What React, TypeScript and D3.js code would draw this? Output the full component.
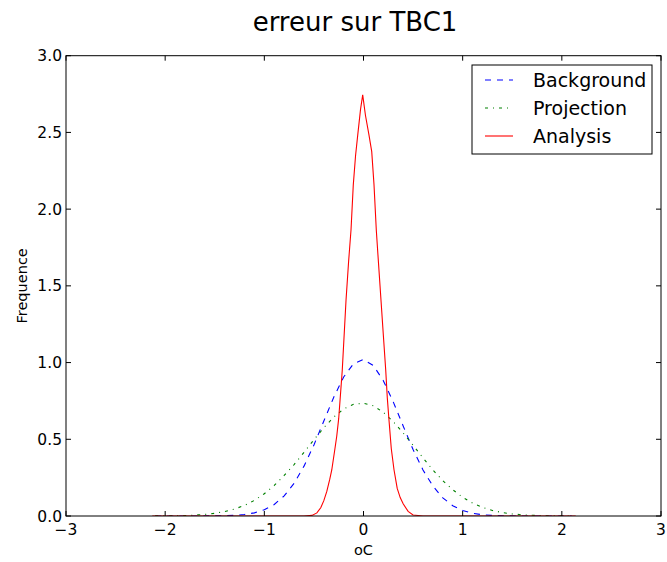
import React from "react";
import * as d3 from "d3";

const W = 667;
const H = 562;

const title = "erreur sur TBC1";
const xLabel = "oC";
const yLabel = "Frequence";
const xTicks = [-3, -2, -1, 0, 1, 2, 3];
const yTicks = [0, 0.5, 1.0, 1.5, 2.0, 2.5, 3.0];
const seriesNames = ["Background", "Projection", "Analysis"];

const bgX = [-2.1, -2.0, -1.9, -1.8, -1.7, -1.6, -1.5, -1.4, -1.3, -1.2, -1.1, -1.0, -0.9, -0.8, -0.7, -0.6, -0.5, -0.4, -0.3, -0.2, -0.1, 0.0, 0.1, 0.2, 0.3, 0.4, 0.5, 0.6, 0.7, 0.8, 0.9, 1.0, 1.1, 1.2, 1.3, 1.4, 1.5, 1.6, 1.7, 1.8, 1.9, 2.0, 2.1];
const bgY = [0, 0, 0, 0, 0, 0.0005, 0.001, 0.002, 0.0043, 0.0097, 0.0205, 0.041, 0.075, 0.131, 0.213, 0.325, 0.463, 0.619, 0.774, 0.906, 0.993, 1.02, 0.98, 0.882, 0.744, 0.587, 0.433, 0.30, 0.195, 0.118, 0.067, 0.036, 0.018, 0.008, 0.0035, 0.0015, 0.0006, 0.0002, 0, 0, 0, 0, 0];

const prX = [-2.1, -2.0, -1.9, -1.8, -1.7, -1.6, -1.5, -1.4, -1.3, -1.2, -1.1, -1.0, -0.9, -0.8, -0.7, -0.6, -0.5, -0.4, -0.3, -0.2, -0.1, 0.0, 0.1, 0.2, 0.3, 0.4, 0.5, 0.6, 0.7, 0.8, 0.9, 1.0, 1.1, 1.2, 1.3, 1.4, 1.5, 1.6, 1.7, 1.8, 1.9, 2.0, 2.1];
const prY = [0.0005, 0.0009, 0.0018, 0.0033, 0.006, 0.0105, 0.0177, 0.029, 0.0456, 0.069, 0.102, 0.145, 0.199, 0.264, 0.335, 0.415, 0.497, 0.575, 0.645, 0.698, 0.728, 0.735, 0.718, 0.676, 0.615, 0.541, 0.461, 0.379, 0.30, 0.23, 0.171, 0.122, 0.084, 0.056, 0.036, 0.0225, 0.0135, 0.0078, 0.0044, 0.0024, 0.0013, 0.0006, 0.0003];

const anX = [-2.13, -0.6, -0.52, -0.47, -0.43, -0.4, -0.37, -0.34, -0.32, -0.29, -0.27, -0.25, -0.214, -0.176, -0.15, -0.126, -0.103, -0.08, -0.058, -0.03, -0.008, 0.02, 0.055, 0.083, 0.106, 0.129, 0.15, 0.2, 0.224, 0.24, 0.257, 0.28, 0.308, 0.34, 0.37, 0.4, 0.45, 0.5, 0.6, 2.14];
const anY = [0, 0, 0.004, 0.02, 0.055, 0.1, 0.16, 0.24, 0.30, 0.43, 0.52, 0.636, 0.952, 1.41, 1.66, 1.864, 2.158, 2.35, 2.484, 2.65, 2.745, 2.61, 2.484, 2.375, 2.158, 1.864, 1.66, 1.18, 0.952, 0.77, 0.626, 0.44, 0.30, 0.18, 0.12, 0.08, 0.03, 0.007, 0, 0];

const seriesColors = ["#0000ff", "#008000", "#ff0000"];
const seriesDash = ["6,6", "3,5,1,5", null];

const margin = { left: 66, right: 6, top: 55.7, bottom: 46 };

export default function App() {
  const x = d3.scaleLinear().domain([-3, 3]).range([margin.left, W - margin.right]);
  const y = d3.scaleLinear().domain([0, 3]).range([H - margin.bottom, margin.top]);
  const line = d3
    .line<[number, number]>()
    .x((d) => x(d[0]))
    .y((d) => y(d[1]));

  const data: [number, number][][] = [
    bgX.map((v, i) => [v, bgY[i]]),
    prX.map((v, i) => [v, prY[i]]),
    anX.map((v, i) => [v, anY[i]]),
  ];

  const x0 = x(-3), x1 = x(3), y0 = y(0), y1 = y(3);
  const font = "'DejaVu Sans', sans-serif";
  const tl = 5;

  const legX = 472, legY = 65, legW = 180, legH = 89;

  return (
    <svg
      width={W}
      height={H}
      style={{ position: "absolute", left: 0, top: 0, background: "#fff" }}
      fontFamily={font}
    >
      <rect x={0} y={0} width={W} height={H} fill="#fff" />
      <defs>
        <clipPath id="plotclip">
          <rect x={x0} y={y1} width={x1 - x0} height={y0 - y1} />
        </clipPath>
      </defs>
      <g clipPath="url(#plotclip)">
        {data.map((d, i) => (
          <path
            key={i}
            d={line(d) || ""}
            fill="none"
            stroke={seriesColors[i]}
            strokeWidth={1.1}
            strokeDasharray={seriesDash[i] || undefined}
          />
        ))}
      </g>
      <rect x={x0} y={y1} width={x1 - x0} height={y0 - y1} fill="none" stroke="#000" strokeWidth={1} />
      {xTicks.map((t) => (
        <g key={"xt" + t}>
          <line x1={x(t)} x2={x(t)} y1={y0} y2={y0 - tl} stroke="#000" />
          <line x1={x(t)} x2={x(t)} y1={y1} y2={y1 + tl} stroke="#000" />
          <text x={x(t)} y={535} fontSize={15.5} textAnchor="middle">
            {t < 0 ? "\u2212" + Math.abs(t) : String(t)}
          </text>
        </g>
      ))}
      {yTicks.map((t) => (
        <g key={"yt" + t}>
          <line x1={x0} x2={x0 + tl} y1={y(t)} y2={y(t)} stroke="#000" />
          <line x1={x1} x2={x1 - tl} y1={y(t)} y2={y(t)} stroke="#000" />
          <text x={62} y={y(t)} dy="0.36em" fontSize={15.5} textAnchor="end">
            {t.toFixed(1)}
          </text>
        </g>
      ))}
      <text x={(x0 + x1) / 2} y={555} fontSize={14.5} textAnchor="middle">
        {xLabel}
      </text>
      <text
        transform={`translate(27,${(y0 + y1) / 2}) rotate(-90)`}
        fontSize={14.5}
        textAnchor="middle"
      >
        {yLabel}
      </text>
      <text x={355} y={31} fontSize={26} textAnchor="middle">
        {title}
      </text>
      <rect x={legX} y={legY} width={legW} height={legH} fill="#fff" stroke="#000" strokeWidth={1} />
      {seriesNames.map((n, i) => {
        const cy = legY + 15 + i * 28;
        return (
          <g key={n}>
            <line
              x1={485}
              x2={513}
              y1={cy}
              y2={cy}
              stroke={seriesColors[i]}
              strokeWidth={1.1}
              strokeDasharray={seriesDash[i] || undefined}
            />
            <text x={533} y={cy} dy="0.36em" fontSize={19}>
              {n}
            </text>
          </g>
        );
      })}
    </svg>
  );
}
